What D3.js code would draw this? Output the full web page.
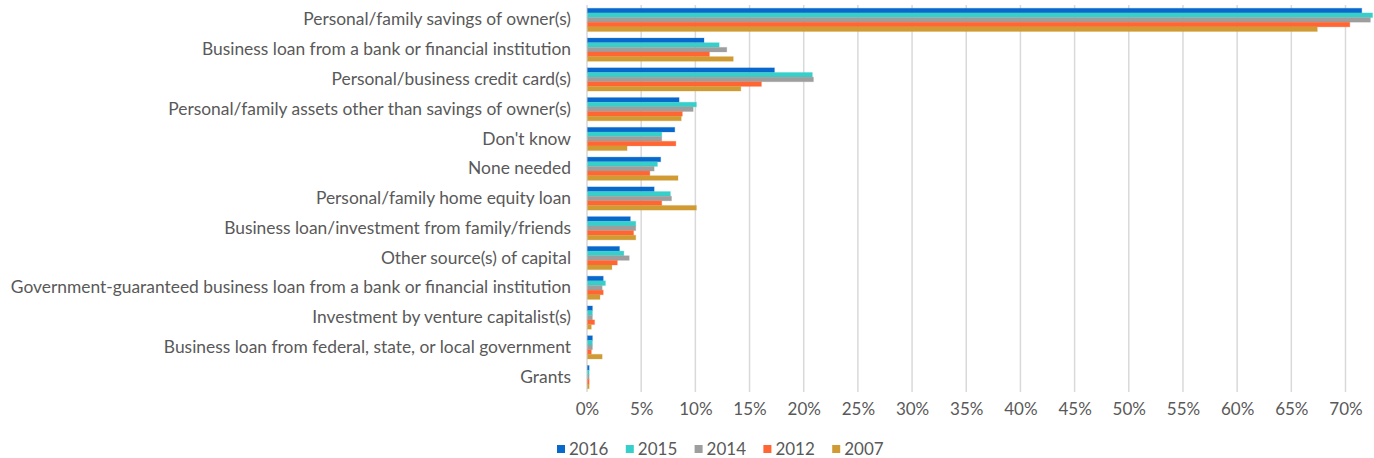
<!DOCTYPE html>
<html>
<head>
<meta charset="utf-8">
<script src="https://cdn.jsdelivr.net/npm/d3@7"></script>
<style>
  html, body { margin: 0; padding: 0; background: #fff; }
  svg text { font-family: Lato, "Open Sans", sans-serif; fill: #595959; }
</style>
</head>
<body>
<svg id="chart" width="1374" height="458"></svg>
<script>
// Sources of capital used to start or acquire the business (% of owners)
const categories = [
  "Personal/family savings of owner(s)",
  "Business loan from a bank or financial institution",
  "Personal/business credit card(s)",
  "Personal/family assets other than savings of owner(s)",
  "Don't know",
  "None needed",
  "Personal/family home equity loan",
  "Business loan/investment from family/friends",
  "Other source(s) of capital",
  "Government-guaranteed business loan from a bank or financial institution",
  "Investment by venture capitalist(s)",
  "Business loan from federal, state, or local government",
  "Grants"
];

const seriesNames = ["2016", "2015", "2014", "2012", "2007"];

const values2016 = [71.5, 10.8, 17.3, 8.5, 8.1, 6.8, 6.2, 4.0, 3.0, 1.5, 0.5, 0.5, 0.2];
const values2015 = [72.5, 12.2, 20.8, 10.1, 6.9, 6.5, 7.7, 4.5, 3.4, 1.7, 0.5, 0.5, 0.2];
const values2014 = [72.3, 12.9, 20.9, 9.8, 6.9, 6.2, 7.8, 4.5, 3.9, 1.4, 0.5, 0.5, 0.2];
const values2012 = [70.4, 11.3, 16.1, 8.8, 8.2, 5.8, 6.9, 4.3, 2.8, 1.5, 0.7, 0.4, 0.2];
const values2007 = [67.4, 13.5, 14.2, 8.7, 3.7, 8.4, 10.1, 4.5, 2.3, 1.2, 0.4, 1.4, 0.2];

const seriesValues = [values2016, values2015, values2014, values2012, values2007];
const seriesColors = ["#0868cc", "#36cfca", "#9e9e9e", "#ff6633", "#d19b34"];

const tickValues = d3.range(0, 71, 5);

const svg = d3.select("#chart");
const plotLeft = 587, plotRight = 1345.5, plotTop = 5, plotBottom = 392;
const fontSize = 17;
const labelFontSize = 17.4;

const x = d3.scaleLinear().domain([0, 70]).range([plotLeft, plotRight]);
const y = d3.scaleBand().domain(categories).range([plotTop, plotBottom]).paddingInner(0.22).paddingOuter(0.11);
const ySub = d3.scaleBand().domain(seriesNames).range([0, y.bandwidth()]);

// vertical gridlines
svg.append("g")
  .selectAll("line")
  .data(tickValues)
  .join("line")
  .attr("x1", d => x(d)).attr("x2", d => x(d))
  .attr("y1", plotTop).attr("y2", plotBottom)
  .attr("stroke", "#d9d9d9")
  .attr("stroke-width", 1.5);

// x axis labels
const xAxis = d3.axisBottom(x).tickValues(tickValues).tickFormat(d => d + "%").tickSize(0).tickPadding(10);
const gx = svg.append("g").attr("transform", `translate(0,${plotBottom + 1})`).call(xAxis);
gx.select(".domain").remove();
gx.selectAll("text").attr("font-size", fontSize).style("font-family", "Lato, sans-serif").attr("fill", "#595959");

// category labels
const yAxis = d3.axisLeft(y).tickSize(0).tickPadding(16);
const gy = svg.append("g").attr("transform", `translate(${plotLeft},0)`).call(yAxis);
gy.select(".domain").remove();
gy.selectAll("text").attr("font-size", labelFontSize).style("font-family", "Lato, sans-serif").attr("fill", "#595959");

// bars
const groups = svg.append("g")
  .selectAll("g")
  .data(seriesNames)
  .join("g")
  .attr("fill", (d, i) => seriesColors[i]);

groups.each(function (name, si) {
  d3.select(this)
    .selectAll("rect")
    .data(categories.map((c, ci) => ({ c, v: seriesValues[si][ci] })))
    .join("rect")
    .attr("x", x(0) + 0.5)
    .attr("y", d => y(d.c) + ySub(name))
    .attr("width", d => Math.max(0, x(d.v) - x(0) - 0.5))
    .attr("height", ySub.bandwidth())
    .attr("stroke", seriesColors[si])
    .attr("stroke-opacity", 0.25)
    .attr("stroke-width", 1);
});

// legend
const legendX = 569, legendY = 449, legendStep = 68.8;
const legend = svg.append("g")
  .selectAll("g")
  .data(seriesNames)
  .join("g")
  .attr("transform", (d, i) => `translate(${legendX + i * legendStep},${legendY})`);
legend.append("rect")
  .attr("x", -12).attr("y", -4).attr("width", 8).attr("height", 8)
  .attr("fill", (d, i) => seriesColors[i]);
legend.append("text")
  .attr("x", 0).attr("y", 0).attr("dy", "0.35em")
  .attr("font-size", fontSize)
  .text(d => d);
</script>
</body>
</html>
